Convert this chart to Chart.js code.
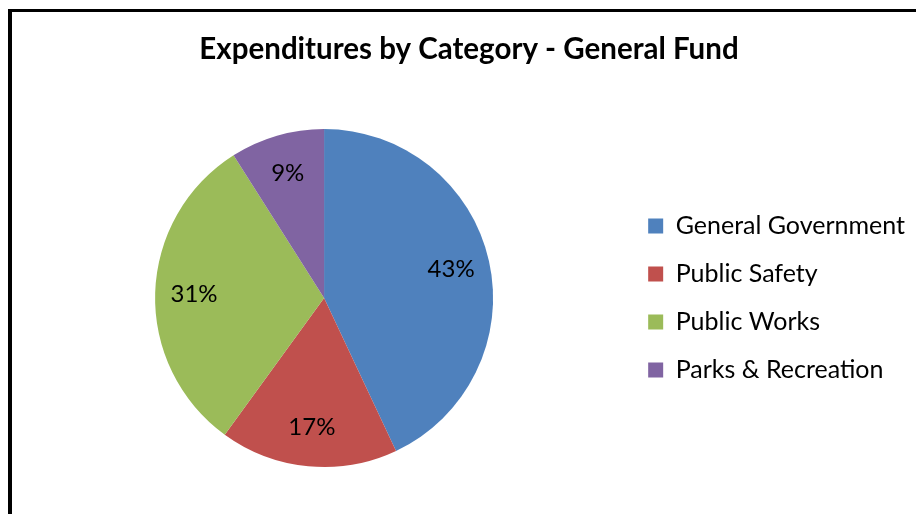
<!DOCTYPE html>
<html>
<head>
<meta charset="utf-8">
<script src="https://cdn.jsdelivr.net/npm/chart.js@4/dist/chart.umd.min.js"></script>
<style>
  html, body { margin: 0; padding: 0; background: #fff; overflow: hidden; }
  #wrap { position: relative; width: 916px; height: 514px; }
  #frame {
    position: absolute; left: 8px; top: 9px; right: -10px; bottom: -10px;
    border-left: 4px solid #000; border-top: 3px solid #000;
    pointer-events: none;
  }
  canvas { position: absolute; left: 0; top: 0; }
</style>
</head>
<body>
<div id="wrap">
  <canvas id="pie" width="916" height="514"></canvas>
  <div id="frame"></div>
</div>
<script>
const categories = ['General Government', 'Public Safety', 'Public Works', 'Parks & Recreation'];
const shares = [43, 17, 31, 9];
const sliceColors = ['#4F81BD', '#C0504D', '#9BBB59', '#8064A2'];

// percentage labels inside each slice
const sliceLabels = {
    id: 'sliceLabels',
    afterDatasetsDraw(chart) {
        const ctx = chart.ctx;
        const meta = chart.getDatasetMeta(0);
        const total = shares.reduce((a, b) => a + b, 0);
        ctx.save();
        ctx.font = '24px Lato';
        ctx.fillStyle = '#000';
        ctx.textAlign = 'center';
        ctx.textBaseline = 'middle';
        meta.data.forEach((arc, i) => {
            const mid = (arc.startAngle + arc.endAngle) / 2;
            const r = arc.outerRadius * 0.77;
            const pct = Math.round(shares[i] / total * 100) + '%';
            ctx.fillText(pct, arc.x + Math.cos(mid) * r, arc.y + Math.sin(mid) * r);
        });
        ctx.restore();
    }
};

new Chart(document.getElementById('pie'), {
    type: 'pie',
    data: {
        labels: categories,
        datasets: [{
            data: shares,
            backgroundColor: sliceColors,
            borderWidth: 0
        }]
    },
    options: {
        responsive: false,
        animation: false,
        layout: { padding: { left: 23, right: 1, bottom: 47 } },
        plugins: {
            tooltip: { enabled: false },
            title: {
                display: true,
                text: 'Expenditures by Category - General Fund',
                color: '#000',
                font: { family: 'Lato', size: 29.5, weight: 'bold' },
                padding: { top: 32, bottom: 61.6 }
            },
            legend: {
                position: 'right',
                fullSize: false,
                labels: {
                    color: '#000',
                    font: { family: 'Lato', size: 25 },
                    boxWidth: 15,
                    boxHeight: 15,
                    padding: 23
                }
            }
        }
    },
    plugins: [sliceLabels]
});
</script>
</body>
</html>
